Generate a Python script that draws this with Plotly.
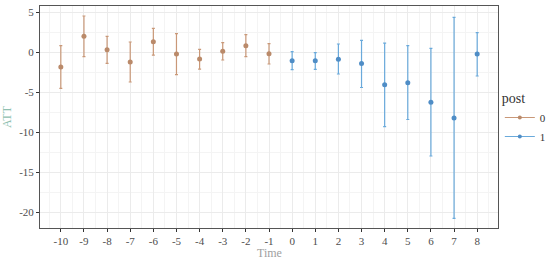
import plotly.graph_objects as go

pre_time = [-10, -9, -8, -7, -6, -5, -4, -3, -2, -1]
pre_att = [-1.84, 2.0, 0.33, -1.21, 1.33, -0.21, -0.84, 0.12, 0.83, -0.17]
pre_upper = [0.83, 4.54, 2.0, 1.29, 3.0, 2.33, 0.37, 1.2, 2.2, 1.08]
pre_lower = [-4.5, -0.55, -1.38, -3.71, -0.34, -2.8, -2.09, -0.96, -0.55, -1.46]

post_time = [0, 1, 2, 3, 4, 5, 6, 7, 8]
post_att = [-1.05, -1.05, -0.88, -1.4, -4.05, -3.8, -6.25, -8.2, -0.21]
post_upper = [0.08, -0.04, 1.04, 1.5, 1.16, 0.83, 0.5, 4.37, 2.45]
post_lower = [-2.17, -2.13, -2.71, -4.4, -9.3, -8.4, -12.96, -20.75, -2.96]

x_ticks = list(range(-10, 9))
y_ticks = [-20, -15, -10, -5, 0, 5]

col_pre = "#C99878"
col_pre_pt = "#BA8A6A"
col_post = "#6AAADB"
col_post_pt = "#4F8DC6"

fig = go.Figure()

def add_series(t, v, up, lo, line_col, pt_col, name):
    fig.add_trace(go.Scatter(
        x=t, y=v, mode="markers", showlegend=False,
        marker=dict(color=pt_col, size=5),
        error_y=dict(type="data", symmetric=False,
                     array=[u - a for u, a in zip(up, v)],
                     arrayminus=[a - l for a, l in zip(v, lo)],
                     color=line_col, thickness=1.2, width=1.5),
    ))
    fig.add_trace(go.Scatter(
        x=[None], y=[None], mode="lines+markers", name=name,
        line=dict(color=line_col, width=1.2),
        marker=dict(color=pt_col, size=4),
    ))

add_series(pre_time, pre_att, pre_upper, pre_lower, col_pre, col_pre_pt, "0")
add_series(post_time, post_att, post_upper, post_lower, col_post, col_post_pt, "1")

font_family = "Liberation Serif, Times New Roman, serif"

fig.update_layout(
    width=550, height=259,
    margin=dict(l=40, r=52, t=6, b=31, autoexpand=False),
    paper_bgcolor="white", plot_bgcolor="white",
    font=dict(family=font_family, size=11, color="#4d4d4d"),
    legend=dict(
        title=dict(text="post", font=dict(size=14, color="#333333")),
        x=1.004, y=0.645, xanchor="left", yanchor="top",
        font=dict(size=11, color="#333333"),
        tracegroupgap=0, itemwidth=30,
    ),
    xaxis=dict(
        range=[-10.9, 8.9],
        tickmode="array", tickvals=x_ticks, ticktext=[str(v) for v in x_ticks],
        showgrid=True, gridcolor="#ebebeb", gridwidth=1,
        minor=dict(dtick=0.5, tick0=0.5, showgrid=True, gridcolor="#f4f4f4", gridwidth=0.8),
        showline=True, linecolor="#555555", linewidth=1, mirror=True,
        ticks="outside", ticklen=3, tickcolor="#333333",
        zeroline=False, automargin=False,
        tickfont=dict(size=11, color="#4d4d4d"),
    ),
    yaxis=dict(
        range=[-21.96, 5.79],
        tickmode="array", tickvals=y_ticks, ticktext=[str(v) for v in y_ticks],
        showgrid=True, gridcolor="#ebebeb", gridwidth=1,
        minor=dict(dtick=2.5, tick0=2.5, showgrid=True, gridcolor="#f4f4f4", gridwidth=0.8),
        showline=True, linecolor="#555555", linewidth=1, mirror=True,
        ticks="outside", ticklen=3, tickcolor="#333333",
        zeroline=False, automargin=False,
        title=dict(text="ATT", font=dict(size=12, color="#8fbfb0"), standoff=4),
        tickfont=dict(size=11, color="#4d4d4d"),
    ),
    annotations=[dict(
        text="Time", xref="paper", yref="paper", x=0.5, y=-0.112,
        xanchor="center", yanchor="middle", showarrow=False,
        font=dict(size=12, color="#a0a0a0"),
    )],
)

fig.write_html(
    "out.html",
    config={"displayModeBar": False},
    post_script="document.body.style.margin='0';document.body.style.padding='0';",
)
